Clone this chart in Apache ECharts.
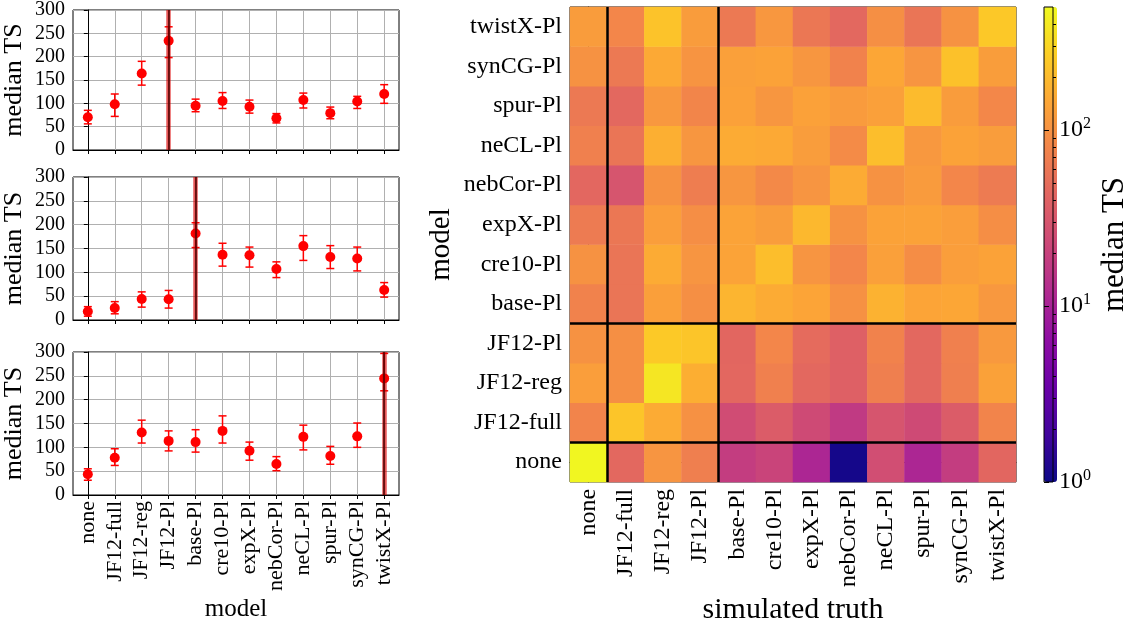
<!DOCTYPE html>
<html><head><meta charset="utf-8">
<script src="https://cdn.jsdelivr.net/npm/echarts@6/dist/echarts.min.js"></script>
<style>html,body{margin:0;padding:0;background:#fff}#c{width:1131px;height:630px}</style>
</head><body><div id="c"></div>
<script>
// ---------- data ----------
const models = ['none','JF12-full','JF12-reg','JF12-Pl','base-Pl','cre10-Pl','expX-Pl','nebCor-Pl','neCL-Pl','spur-Pl','synCG-Pl','twistX-Pl'];
const truths = ['none','JF12-full','JF12-reg','JF12-Pl','base-Pl','cre10-Pl','expX-Pl','nebCor-Pl','neCL-Pl','spur-Pl','synCG-Pl','twistX-Pl'];
const yTickValues = [0,50,100,150,200,250,300];

// left panels: median TS vs model for a given simulated truth
const panelTruths = ['JF12-Pl','base-Pl','twistX-Pl'];
const p1Median = [70,98,164,234,95,105,92.5,68,107,79,104,120];
const p1Low    = [56,72,139,198,82,89,79,58,90,67,89,100];
const p1High   = [85,120,190,264,109,123,107,78,122,92,115,140];
const p2Median = [18,25,44,43.5,181.5,137,136,107,155,132,129,63];
const p2Low    = [8,13,27,25,152,113,111,89,125,108,103,48];
const p2High   = [28,38.5,59,62,204,161,153,122,177,156,153,78.5];
const p3Median = [43.5,78,131,113.5,111,134.5,93,65,122,82,123,244.6];
const p3Low    = [31,62,109,92.5,90,109,73,51,94.6,64.5,100,218.6];
const p3High   = [55,97,157,134.5,137,166,111,80.5,146.5,102,151,297];

// heatmap rows: model (row) x simulated truth (columns in `truths` order)
const tsNone      = [480,45,105,70,18,21,11,1.1,26,11,18,43.5];
const tsJF12full  = [78,235,155,98,25,35,24,17,30,24,35,78];
const tsJF12reg   = [125,95,380,164,44,72,45,38,70,45,70,131];
const tsJF12Pl    = [100,95,250,234,43.5,80,48,38,75,45,72,113.5];
const tsBasePl    = [75,58,128,95,181.5,155,140,98,175,140,145,111];
const tsCre10Pl   = [100,58,155,105,137,210,105,80,130,92,125,134.5];
const tsExpXPl    = [65,60,125,92.5,136,122,190,100,135,135,125,93];
const tsNebCorPl  = [44,30,100,68,107,85,105,155,100,118,80,65];
const tsNeCLPl    = [72,58,165,107,155,150,122,88,210,112,135,122];
const tsSpurPl    = [62,45,112,79,132,108,132,118,130,200,120,82];
const tsSynCGPl   = [100,62,150,104,129,135,108,75,145,105,220,123];
const tsTwistXPl  = [120,80,225,120,63,110,60,45,95,58,100,244.6];

const groupBounds = [0.5, 3.5];
const cbarMin = 1, cbarMax = 500;
const cbarMajor = [1, 10, 100];
const cbarMinor = [2,3,4,5,6,7,8,9,20,30,40,50,60,70,80,90,200,300,400];
const plasma = ['#0d0887','#41049d','#6a00a8','#8f0da4','#b12a90','#cc4778','#e16462','#f2844b','#fca636','#fcce25','#f0f921'];

// ---------- build ----------
const FONT = '"Liberation Serif", "DejaVu Serif", serif';
const tsRows = [tsNone,tsJF12full,tsJF12reg,tsJF12Pl,tsBasePl,tsCre10Pl,tsExpXPl,tsNebCorPl,tsNeCLPl,tsSpurPl,tsSynCGPl,tsTwistXPl];
const heatData = [];
tsRows.forEach((row, mi) => row.forEach((v, ti) => heatData.push([ti, mi, v, Math.log10(v)])));
const idx = models.map((_, i) => i);

const panels = [
  {med: p1Median, lo: p1Low, hi: p1High, top: 7},
  {med: p2Median, lo: p2Low, hi: p2High, top: 177},
  {med: p3Median, lo: p3Low, hi: p3High, top: 352}
];

function errRender(params, api) {
  const x = api.value(0), lo = api.value(1), hi = api.value(2);
  const a = api.coord([x, lo]), b = api.coord([x, hi]);
  const w = 4;
  const style = {stroke: '#ff0000', lineWidth: 1.5};
  return {type: 'group', children: [
    {type: 'line', shape: {x1: a[0], y1: a[1], x2: b[0], y2: b[1]}, style},
    {type: 'line', shape: {x1: a[0]-w, y1: a[1], x2: a[0]+w, y2: a[1]}, style},
    {type: 'line', shape: {x1: b[0]-w, y1: b[1], x2: b[0]+w, y2: b[1]}, style}
  ]};
}

const grid = [], xAxis = [], yAxis = [], series = [];
panels.forEach((p, k) => {
  grid.push({left: 73, top: p.top, width: 326, height: 143, show: true, borderColor: '#000', borderWidth: 1, backgroundColor: 'transparent'});
  xAxis.push({
    gridIndex: k, type: 'value', min: -0.55, max: 11.55,
    axisLine: {show: true, onZero: false, lineStyle: {color: '#000', width: 1}},
    axisTick: {show: true, customValues: idx, length: 4, lineStyle: {color: '#000'}},
    axisLabel: {show: k === 2, customValues: idx, rotate: 90, margin: 6, color: '#000', fontFamily: FONT, fontSize: 22,
      formatter: v => models[Math.round(v)]},
    splitLine: {show: true, lineStyle: {color: '#b0b0b0', width: 1}},
    name: k === 2 ? 'model' : '', nameLocation: 'middle', nameGap: 102,
    nameTextStyle: {color: '#000', fontFamily: FONT, fontSize: 25}
  });
  yAxis.push({
    gridIndex: k, type: 'value', min: 0, max: 300, interval: 50,
    axisLine: {show: true, lineStyle: {color: '#000'}},
    axisTick: {show: true, length: 4, lineStyle: {color: '#000'}},
    axisLabel: {color: '#000', fontFamily: FONT, fontSize: 20, margin: 8, showMinLabel: true, showMaxLabel: true},
    splitLine: {show: true, lineStyle: {color: '#b0b0b0', width: 1}},
    name: 'median TS', nameLocation: 'middle', nameGap: 46, nameRotate: 90,
    nameTextStyle: {color: '#000', fontFamily: FONT, fontSize: 26}
  });
  const ti = models.indexOf(panelTruths[k]);
  series.push({
    type: 'line', xAxisIndex: k, yAxisIndex: k, data: [], z: 1, silent: true,
    markLine: {symbol: 'none', silent: true, animation: false, label: {show: false},
      data: [
        {xAxis: ti, lineStyle: {color: 'rgba(220,0,0,0.65)', width: 4.5, type: 'solid'}},
        {xAxis: ti, lineStyle: {color: '#4a0000', width: 1.5, type: 'solid'}}
      ]}
  });
  series.push({
    type: 'custom', xAxisIndex: k, yAxisIndex: k, z: 2, silent: true,
    renderItem: errRender, encode: {x: 0, y: [1, 2]},
    data: p.med.map((_, i) => [i, p.lo[i], p.hi[i]])
  });
  series.push({
    type: 'scatter', xAxisIndex: k, yAxisIndex: k, z: 3, silent: true,
    symbol: 'circle', symbolSize: 10, itemStyle: {color: '#ff0000', opacity: 1},
    data: p.med.map((v, i) => [i, v])
  });
});

// heatmap grid (index 3)
grid.push({left: 570, top: 7, width: 446, height: 475, show: true, borderColor: '#000', borderWidth: 1, backgroundColor: 'transparent'});
xAxis.push({
  gridIndex: 3, type: 'category', data: truths,
  axisLine: {show: true, lineStyle: {color: '#000'}},
  axisTick: {show: true, alignWithLabel: true, length: 5, lineStyle: {color: '#000'}},
  axisLabel: {rotate: 90, margin: 7, color: '#000', fontFamily: FONT, fontSize: 24, interval: 0},
  splitLine: {show: false},
  name: 'simulated truth', nameLocation: 'middle', nameGap: 112,
  nameTextStyle: {color: '#000', fontFamily: FONT, fontSize: 30}
});
yAxis.push({
  gridIndex: 3, type: 'category', data: models,
  axisLine: {show: true, lineStyle: {color: '#000'}},
  axisTick: {show: true, alignWithLabel: true, length: 5, lineStyle: {color: '#000'}},
  axisLabel: {margin: 8, color: '#000', fontFamily: FONT, fontSize: 24, interval: 0},
  splitLine: {show: false},
  name: 'model', nameLocation: 'middle', nameGap: 114, nameRotate: 90,
  nameTextStyle: {color: '#000', fontFamily: FONT, fontSize: 29}
});
// overlay value axes for group boundaries (index 4)
xAxis.push({gridIndex: 3, type: 'value', min: -0.5, max: 11.5, show: false});
yAxis.push({gridIndex: 3, type: 'value', min: -0.5, max: 11.5, show: false});
series.push({
  type: 'heatmap', xAxisIndex: 3, yAxisIndex: 3, data: heatData, silent: true,
  itemStyle: {borderWidth: 0}, progressive: 0
});
const heatIndex = series.length - 1;
series.push({
  type: 'line', xAxisIndex: 4, yAxisIndex: 4, data: [], z: 5, silent: true,
  markLine: {symbol: 'none', silent: true, animation: false, label: {show: false},
    lineStyle: {color: '#000', width: 2.5, type: 'solid'},
    data: groupBounds.map(b => ({xAxis: b})).concat(groupBounds.map(b => ({yAxis: b})))}
});

// colorbar axis grid (index 4)
const lg = v => Math.log10(v);
grid.push({left: 1044, top: 7, width: 13, height: 475, show: true, borderColor: '#000', borderWidth: 1, backgroundColor: 'transparent', z: 10});
xAxis.push({gridIndex: 4, type: 'value', min: 0, max: 1, show: false});
yAxis.push({
  gridIndex: 4, type: 'value', min: lg(cbarMin), max: lg(cbarMax), position: 'right', z: 10,
  axisLine: {show: false},
  axisTick: {show: true, inside: false, length: 5, customValues: cbarMajor.map(lg), lineStyle: {color: '#000', width: 1}},
  axisLabel: {customValues: cbarMajor.map(lg), margin: 6, color: '#000', fontFamily: FONT,
    formatter: v => '{b|10}{s|' + Math.round(v) + '}',
    rich: {b: {fontSize: 24, fontFamily: FONT, color: '#000'}, s: {fontSize: 16, fontFamily: FONT, color: '#000', padding: [0, 0, 12, 0]}}},
  splitLine: {show: false},
  name: 'median TS', nameLocation: 'middle', nameGap: 46, nameRotate: 90,
  nameTextStyle: {color: '#000', fontFamily: FONT, fontSize: 31}
});
yAxis.push({
  gridIndex: 4, type: 'value', min: lg(cbarMin), max: lg(cbarMax), position: 'right', z: 10,
  axisLine: {show: false},
  axisTick: {show: true, inside: false, length: 3, customValues: cbarMinor.map(lg), lineStyle: {color: '#000', width: 1}},
  axisLabel: {show: false}, splitLine: {show: false}
});

const option = {
  backgroundColor: '#fff',
  animation: false,
  grid, xAxis, yAxis, series,
  visualMap: {
    type: 'continuous', seriesIndex: heatIndex, dimension: 3,
    min: lg(cbarMin), max: lg(cbarMax), calculable: false, hoverLink: false,
    inRange: {color: plasma},
    orient: 'vertical', left: 1044, top: 7, itemWidth: 13, itemHeight: 475, padding: 0
  }
};
const chart = echarts.init(document.getElementById('c'), null, {renderer: 'canvas'});
chart.setOption(option);
</script></body></html>
